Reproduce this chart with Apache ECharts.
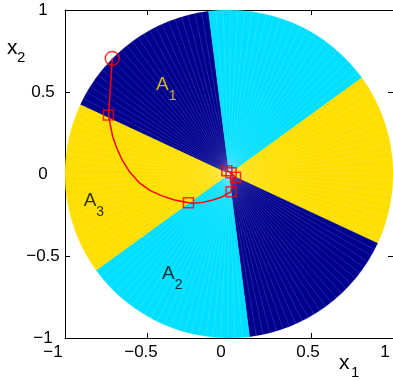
<!DOCTYPE html>
<html><head><meta charset="utf-8">
<script src="https://cdn.jsdelivr.net/npm/echarts@6/dist/echarts.min.js"></script>
<style>html,body{margin:0;padding:0;background:#fff;overflow:hidden}#c{width:393px;height:381px}</style>
</head><body><div id="c"></div>
<script>
// ---- Sector partition of the unit disk (angles in degrees, CCW from +x1) ----
const sectorStart = [97.2, 35.9, -25.0, -82.8, -144.1, 155.0];
const sectorEnd   = [155.0, 97.2, 35.9, -25.0, -82.8, 215.9];
const sectorColor = ['#00008F', '#00DFFF', '#FFDF00', '#00008F', '#00DFFF', '#FFDF00'];

// ---- Trajectory ----
const trajX = [-0.712, -0.723, -0.735, -0.724, -0.709, -0.684, -0.651, -0.607, -0.550, -0.485, -0.413, -0.332, -0.247, -0.221, -0.160, -0.099, -0.048, 0.013, 0.021, 0.040, 0.013, -0.013];
const trajY = [0.705, 0.530, 0.360, 0.299, 0.227, 0.157, 0.085, 0.014, -0.051, -0.098, -0.132, -0.159, -0.175, -0.179, -0.173, -0.159, -0.142, -0.108, -0.037, -0.020, 0.008, 0.020];

// start point (circle) and switching points (squares)
const startX = [-0.712];
const startY = [0.705];
const switchX = [-0.735, -0.247, 0.013, 0.040, 0.013, -0.013];
const switchY = [0.360, -0.175, -0.108, -0.020, 0.008, 0.020];

// ---- Region labels ----
const regionSub = ['1', '2', '3'];
const regionX = [-0.382, -0.346, -0.824];
const regionY = [0.543, -0.610, -0.162];
const regionColor = ['#FFDF00', '#000000', '#000000'];

// ---- Tick labels ----
const xTickValues = [-1, -0.5, 0, 0.5, 1];
const xTickLabels = ['\u22121', '\u22120.5', '0', '0.5', '1'];
const yTickValues = [-1, -0.5, 0, 0.5, 1];
const yTickLabels = ['\u22121', '\u22120.5', '0', '0.5', '1'];

// label horizontal shifts (style only)
const xLabelShift = [-12, -6, -8, -3, -8];

const FONT = '"Liberation Sans", Arial, Helvetica, sans-serif';
const chart = echarts.init(document.getElementById('c'), null, {renderer: 'canvas'});

const xRich = {};
xLabelShift.forEach((s, i) => {
  xRich['s' + i] = {fontFamily: FONT, fontSize: 17, color: '#000', padding: [0, -2 * s, 0, 0]};
});

function rad(d) { return d * Math.PI / 180; }

const sectorData = sectorStart.map((s, i) => [0, 0, s, sectorEnd[i], i]);

option = {
  animation: false,
  backgroundColor: '#fff',
  grid: {left: 65, top: 10, width: 328, height: 328, containLabel: false},
  xAxis: [{
    type: 'value', min: -1, max: 1, interval: 0.5, position: 'bottom',
    axisLine: {show: true, onZero: false, lineStyle: {color: '#000', width: 1}},
    axisTick: {show: true, inside: true, length: 5, lineStyle: {color: '#000'}},
    splitLine: {show: false},
    axisLabel: {
      margin: 6,
      formatter: v => {
        const i = xTickValues.findIndex(t => Math.abs(t - v) < 1e-9);
        return i < 0 ? '' : '{s' + i + '|' + xTickLabels[i] + '}';
      },
      rich: xRich
    }
  }, {
    type: 'value', min: -1, max: 1, interval: 0.5, position: 'top',
    axisLine: {show: true, onZero: false, lineStyle: {color: '#000', width: 1}},
    axisTick: {show: true, inside: true, length: 5, lineStyle: {color: '#000'}},
    axisLabel: {show: false}, splitLine: {show: false}
  }],
  yAxis: [{
    type: 'value', min: -1, max: 1, interval: 0.5, position: 'left',
    axisLine: {show: true, onZero: false, lineStyle: {color: '#000', width: 1}},
    axisTick: {show: true, inside: true, length: 5, lineStyle: {color: '#000'}},
    splitLine: {show: false},
    axisLabel: {
      margin: 22, align: 'center', verticalAlign: 'middle', padding: [3, 0, 0, 0],
      fontFamily: FONT, fontSize: 17, color: '#000',
      formatter: v => {
        const i = yTickValues.findIndex(t => Math.abs(t - v) < 1e-9);
        return i < 0 ? '' : yTickLabels[i];
      }
    }
  }, {
    type: 'value', min: -1, max: 1, interval: 0.5, position: 'right',
    axisLine: {show: true, onZero: false, lineStyle: {color: '#000', width: 1}},
    axisTick: {show: true, inside: true, length: 5, lineStyle: {color: '#000'}},
    axisLabel: {show: false}, splitLine: {show: false}
  }],
  graphic: [
    {type: 'text', x: 339, y: 363, style: {text: 'x', font: '21px ' + FONT, fill: '#000', textAlign: 'left', textVerticalAlign: 'middle'}},
    {type: 'text', x: 351, y: 373, style: {text: '1', font: '15px ' + FONT, fill: '#000', textAlign: 'left', textVerticalAlign: 'middle'}},
    {type: 'text', x: 7, y: 48, style: {text: 'x', font: '21px ' + FONT, fill: '#000', textAlign: 'left', textVerticalAlign: 'middle'}},
    {type: 'text', x: 17, y: 58, style: {text: '2', font: '15px ' + FONT, fill: '#000', textAlign: 'left', textVerticalAlign: 'middle'}}
  ],
  series: [{
    type: 'custom',
    coordinateSystem: 'cartesian2d',
    xAxisIndex: 0, yAxisIndex: 0,
    encode: {x: 0, y: 1},
    data: sectorData,
    z: 1,
    renderItem: (params, api) => {
      const c = api.coord([0, 0]);
      const r = api.size([1, 1])[0];
      const a1 = rad(api.value(2)), a2 = rad(api.value(3));
      const col = sectorColor[api.value(4)];
      const children = [{
        type: 'sector',
        shape: {cx: c[0], cy: c[1], r: r, r0: 0, startAngle: -a2, endAngle: -a1, clockwise: true},
        style: {fill: col, stroke: col, lineWidth: 0.3}
      }];
      const n = 24;
      for (let k = 1; k < n; k++) {
        const a = a1 + (a2 - a1) * k / n;
        children.push({
          type: 'line',
          shape: {x1: c[0], y1: c[1], x2: c[0] + r * Math.cos(a), y2: c[1] - r * Math.sin(a)},
          style: {stroke: 'rgba(255,255,255,0.28)', lineWidth: 0.5}
        });
      }
      return {type: 'group', children: children};
    }
  }, {
    type: 'line',
    data: trajX.map((x, i) => [x, trajY[i]]),
    showSymbol: false, symbol: 'none', smooth: false,
    lineStyle: {color: '#FF0000', width: 1.5},
    z: 3
  }, {
    type: 'scatter',
    data: switchX.map((x, i) => [x, switchY[i]]),
    symbol: 'rect', symbolSize: 10,
    itemStyle: {color: 'rgba(0,0,0,0)', borderColor: '#FF0000', borderWidth: 1.5},
    z: 4
  }, {
    type: 'scatter',
    data: startX.map((x, i) => [x, startY[i]]),
    symbol: 'circle', symbolSize: 14,
    itemStyle: {color: 'rgba(0,0,0,0)', borderColor: '#FF0000', borderWidth: 1.5},
    z: 4
  }, {
    type: 'scatter',
    data: regionX.map((x, i) => ({
      value: [x, regionY[i]],
      label: {
        formatter: '{a|A}{s|' + regionSub[i] + '}',
        rich: {
          a: {fontFamily: FONT, fontSize: 19, lineHeight: 19, color: regionColor[i], verticalAlign: 'top'},
          s: {fontFamily: FONT, fontSize: 14, lineHeight: 14, color: regionColor[i], padding: [14, 0, 0, 0], verticalAlign: 'top'}
        }
      }
    })),
    symbolSize: 0,
    itemStyle: {color: 'rgba(0,0,0,0)'},
    label: {show: true, position: 'inside'},
    silent: true,
    z: 5
  }]
};
chart.setOption(option);
</script>
</body></html>
